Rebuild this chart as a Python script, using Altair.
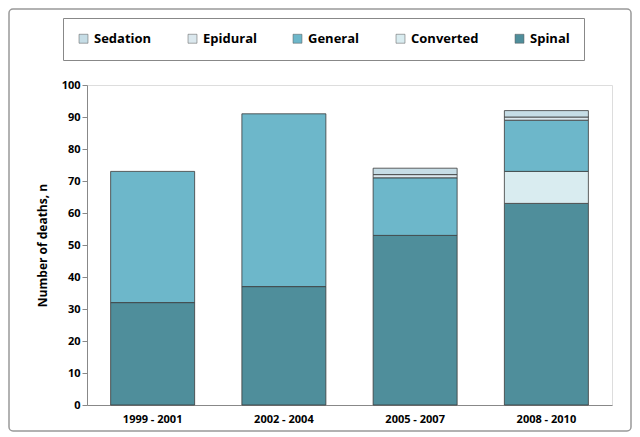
import altair as alt
import pandas as pd

periods = ["1999 - 2001", "2002 - 2004", "2005 - 2007", "2008 - 2010"]
types = ["Sedation", "Epidural", "General", "Converted", "Spinal"]
colors = ["#c6dde6", "#dbe8ee", "#6db7ca", "#d9ecf0", "#4f8e9b"]
spinal = [32, 37, 53, 63]
converted = [0, 0, 0, 10]
general = [41, 54, 18, 16]
epidural = [0, 0, 1, 1]
sedation = [0, 0, 2, 2]

rows = []
for i, p in enumerate(periods):
    for t, vals, o in [("Spinal", spinal, 0), ("Converted", converted, 1),
                       ("General", general, 2), ("Epidural", epidural, 3),
                       ("Sedation", sedation, 4)]:
        if vals[i] > 0:
            rows.append({"period": p, "type": t, "n": vals[i], "ord": o})
df = pd.DataFrame(rows)

bars = alt.Chart(df).mark_bar(stroke="#3a3a3a", strokeWidth=0.8).encode(
    x=alt.X("period:N", sort=periods, title=None,
            scale=alt.Scale(paddingInner=0.36, paddingOuter=0.18),
            axis=alt.Axis(labelAngle=0, labelFontWeight="bold", labelFontSize=11,
                          ticks=False, domainColor="#888", labelPadding=8)),
    y=alt.Y("n:Q", stack="zero", title="Number of deaths, n",
            scale=alt.Scale(domain=[0, 100]),
            axis=alt.Axis(values=list(range(0, 101, 10)), grid=False,
                          labelFontWeight="bold", labelFontSize=11, domainColor="#888",
                          tickColor="#888", titleFontSize=12, titlePadding=12)),
    color=alt.Color("type:N", sort=types,
                    scale=alt.Scale(domain=types, range=colors),
                    legend=alt.Legend(title=None, orient="none", direction="horizontal",
                                      legendX=-24, legendY=-67, columns=5,
                                      strokeColor="#888", padding=14,
                                      columnPadding=34, symbolType="square",
                                      symbolStrokeColor="#555", symbolStrokeWidth=0.5,
                                      labelFontSize=13, labelFontWeight="bold",
                                      symbolSize=80, offset=0)),
    order=alt.Order("ord:Q"),
)

frame = alt.Chart(pd.DataFrame({"a": [0]})).mark_rect(
    fill=None, stroke="#999", strokeWidth=1.5, cornerRadius=4, clip=False
).encode(x=alt.value(-78), x2=alt.value(544), y=alt.value(-76), y2=alt.value(346))

chart = (bars + frame).properties(
    width=525, height=320,
    autosize=alt.AutoSizeParams(type="none"),
    padding={"left": 79, "top": 77, "right": 20, "bottom": 30},
).configure_view(stroke=None).configure(font="Open Sans")

chart.save("out.html", embed_options={"renderer": "svg", "actions": False})
